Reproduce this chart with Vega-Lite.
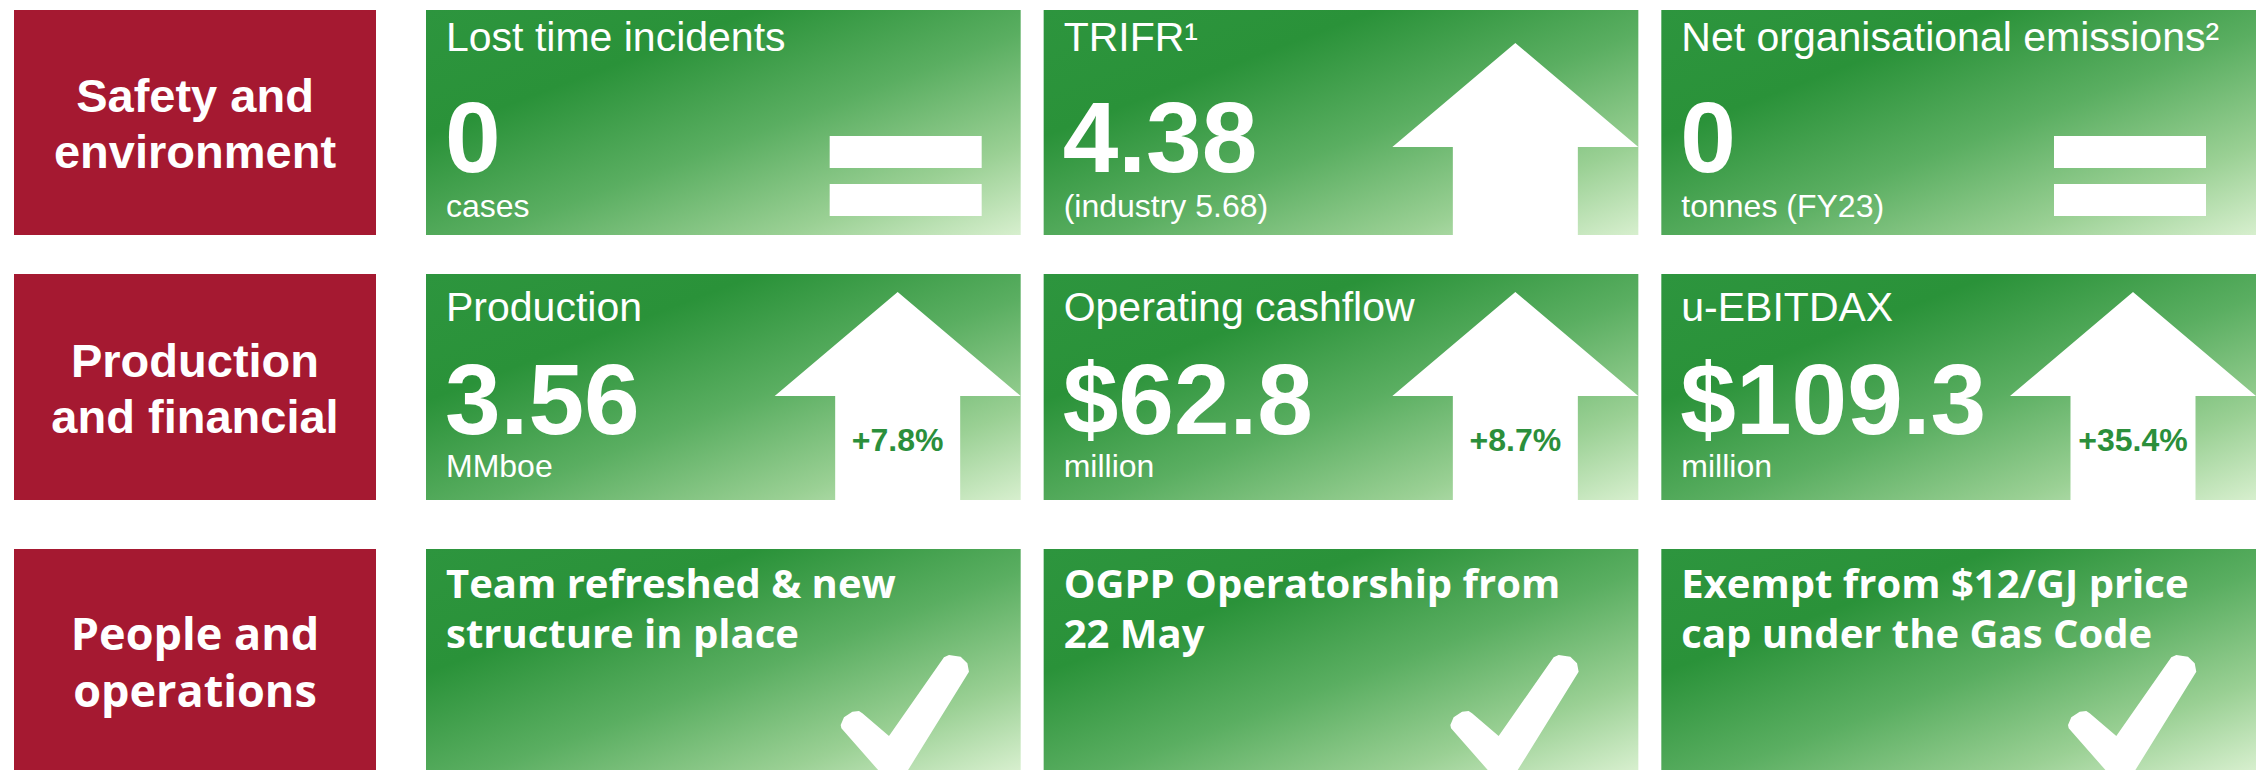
{
  "$schema": "https://vega.github.io/schema/vega-lite/v6.json",
  "background": "white",
  "padding": {"left": 14, "top": 10, "right": 0, "bottom": 0},
  "config": {"view": {"stroke": null}},
  "datasets": {
    "labels": [
      {"row": 1, "label": "Safety and\nenvironment"},
      {"row": 2, "label": "Production\nand financial"},
      {"row": 3, "label": "People and\noperations"}
    ],
    "tiles": [
      {"row": 1, "col": "c1", "title": "Lost time incidents", "value": "0", "unit": "cases", "icon": "equals"},
      {"row": 1, "col": "c2", "title": "TRIFR¹", "value": "4.38", "unit": "(industry 5.68)", "icon": "up"},
      {"row": 1, "col": "c3", "title": "Net organisational emissions²", "value": "0", "unit": "tonnes (FY23)", "icon": "equals"},
      {"row": 2, "col": "c1", "title": "Production", "value": "3.56", "unit": "MMboe", "icon": "up", "pct": "+7.8%"},
      {"row": 2, "col": "c2", "title": "Operating cashflow", "value": "$62.8", "unit": "million", "icon": "up", "pct": "+8.7%"},
      {"row": 2, "col": "c3", "title": "u-EBITDAX", "value": "$109.3", "unit": "million", "icon": "up", "pct": "+35.4%"},
      {"row": 3, "col": "c1", "title": "Team refreshed & new\nstructure in place", "icon": "check"},
      {"row": 3, "col": "c2", "title": "OGPP Operatorship from\n22 May", "icon": "check"},
      {"row": 3, "col": "c3", "title": "Exempt from $12/GJ price\ncap under the Gas Code", "icon": "check"}
    ]
  },
  "spacing": 49,
  "vconcat": [
    {
      "spacing": 39,
      "vconcat": [
        {
          "spacing": 50,
          "hconcat": [
            {
              "width": 362, "height": 225,
              "view": {"fill": "#a51931", "stroke": null},
              "data": {"name": "labels"},
              "transform": [{"filter": "datum.row == 1"}],
              "mark": {"type": "text", "align": "center", "baseline": "alphabetic", "dy": -10.5, "font": "Liberation Sans", "fontWeight": "bold", "fontSize": 47, "lineHeight": 56, "lineBreak": "\n", "fill": "white"},
              "encoding": {"text": {"field": "label", "type": "nominal"}}
            },
            {
              "width": 1830, "height": 225,
              "view": {"stroke": null},
              "data": {"name": "tiles"},
              "transform": [{"filter": "datum.row == 1"}],
              "encoding": {"x": {"field": "col", "type": "nominal", "scale": {"type": "band", "domain": ["c1", "c2", "c3"], "paddingInner": 0.0372, "paddingOuter": 0}, "axis": null}},
              "layer": [
                {"mark": {"type": "rect", "opacity": 1, "fill": {"gradient": "linear", "x1": 0, "y1": 0, "x2": 1, "y2": 1, "stops": [{"offset": 0, "color": "#2d953e"}, {"offset": 0.28, "color": "#2a9239"}, {"offset": 0.55, "color": "#5aae61"}, {"offset": 0.8, "color": "#9ad094"}, {"offset": 1, "color": "#d7efce"}]}}},
                {"transform": [{"filter": "datum.icon == 'up'"}],
                 "mark": {"type": "point", "shape": "M-1.23,-0.795 L0,0.245 L-0.605,0.245 L-0.605,1.3 L-1.855,1.3 L-1.855,0.245 L-2.46,0.245 Z", "size": 40000, "filled": true, "fill": "white", "opacity": 1, "strokeWidth": 0, "clip": true},
                 "encoding": {"x": {"field": "col", "type": "nominal", "bandPosition": 1}}},
                {"transform": [{"filter": "datum.icon == 'equals' && datum.col == 'c1'"}],
                 "mark": {"type": "point", "shape": "M-1.91,0.135 L-0.39,0.135 L-0.39,0.455 L-1.91,0.455 Z M-1.91,0.615 L-0.39,0.615 L-0.39,0.935 L-1.91,0.935 Z", "size": 40000, "filled": true, "fill": "white", "opacity": 1, "strokeWidth": 0},
                 "encoding": {"x": {"field": "col", "type": "nominal", "bandPosition": 1}}},
                {"transform": [{"filter": "datum.icon == 'equals' && datum.col == 'c3'"}],
                 "mark": {"type": "point", "shape": "M-1.91,0.135 L-0.39,0.135 L-0.39,0.455 L-1.91,0.455 Z M-1.91,0.615 L-0.39,0.615 L-0.39,0.935 L-1.91,0.935 Z", "size": 40000, "filled": true, "fill": "white", "opacity": 1, "strokeWidth": 0, "xOffset": -11},
                 "encoding": {"x": {"field": "col", "type": "nominal", "bandPosition": 1}}},
                {"mark": {"type": "text", "align": "left", "baseline": "alphabetic", "dx": 20, "dy": -71.5, "font": "Liberation Sans", "fontSize": 41, "fill": "white"},
                 "encoding": {"x": {"field": "col", "type": "nominal", "bandPosition": 0}, "text": {"field": "title", "type": "nominal"}}},
                {"mark": {"type": "text", "align": "left", "baseline": "alphabetic", "dx": 19, "dy": 49.5, "font": "Liberation Sans", "fontWeight": "bold", "fontSize": 100, "fill": "white"},
                 "encoding": {"x": {"field": "col", "type": "nominal", "bandPosition": 0}, "text": {"field": "value", "type": "nominal"}}},
                {"mark": {"type": "text", "align": "left", "baseline": "alphabetic", "dx": 20, "dy": 94.5, "font": "Liberation Sans", "fontSize": 32, "fill": "white"},
                 "encoding": {"x": {"field": "col", "type": "nominal", "bandPosition": 0}, "text": {"field": "unit", "type": "nominal"}}}
              ]
            }
          ]
        },
        {
          "spacing": 50,
          "hconcat": [
            {
              "width": 362, "height": 226,
              "view": {"fill": "#a51931", "stroke": null},
              "data": {"name": "labels"},
              "transform": [{"filter": "datum.row == 2"}],
              "mark": {"type": "text", "align": "center", "baseline": "alphabetic", "dy": -10, "font": "Liberation Sans", "fontWeight": "bold", "fontSize": 47, "lineHeight": 56, "lineBreak": "\n", "fill": "white"},
              "encoding": {"text": {"field": "label", "type": "nominal"}}
            },
            {
              "width": 1830, "height": 226,
              "view": {"stroke": null},
              "data": {"name": "tiles"},
              "transform": [{"filter": "datum.row == 2"}],
              "encoding": {"x": {"field": "col", "type": "nominal", "scale": {"type": "band", "domain": ["c1", "c2", "c3"], "paddingInner": 0.0372, "paddingOuter": 0}, "axis": null}},
              "layer": [
                {"mark": {"type": "rect", "opacity": 1, "fill": {"gradient": "linear", "x1": 0, "y1": 0, "x2": 1, "y2": 1, "stops": [{"offset": 0, "color": "#2d953e"}, {"offset": 0.28, "color": "#2a9239"}, {"offset": 0.55, "color": "#5aae61"}, {"offset": 0.8, "color": "#9ad094"}, {"offset": 1, "color": "#d7efce"}]}}},
                {"transform": [{"filter": "datum.icon == 'up'"}],
                 "mark": {"type": "point", "shape": "M-1.23,-0.95 L0,0.09 L-0.605,0.09 L-0.605,1.3 L-1.855,1.3 L-1.855,0.09 L-2.46,0.09 Z", "size": 40000, "filled": true, "fill": "white", "opacity": 1, "strokeWidth": 0, "clip": true},
                 "encoding": {"x": {"field": "col", "type": "nominal", "bandPosition": 1}}},
                {"mark": {"type": "text", "align": "left", "baseline": "alphabetic", "dx": 20, "dy": -66, "font": "Liberation Sans", "fontSize": 41, "fill": "white"},
                 "encoding": {"x": {"field": "col", "type": "nominal", "bandPosition": 0}, "text": {"field": "title", "type": "nominal"}}},
                {"mark": {"type": "text", "align": "left", "baseline": "alphabetic", "dx": 19, "dy": 47, "font": "Liberation Sans", "fontWeight": "bold", "fontSize": 100, "fill": "white"},
                 "encoding": {"x": {"field": "col", "type": "nominal", "bandPosition": 0}, "text": {"field": "value", "type": "nominal"}}},
                {"mark": {"type": "text", "align": "left", "baseline": "alphabetic", "dx": 20, "dy": 90, "font": "Liberation Sans", "fontSize": 32, "fill": "white"},
                 "encoding": {"x": {"field": "col", "type": "nominal", "bandPosition": 0}, "text": {"field": "unit", "type": "nominal"}}},
                {"mark": {"type": "text", "align": "center", "baseline": "alphabetic", "dx": -123, "dy": 64, "font": "Liberation Sans", "fontWeight": "bold", "fontSize": 32, "fill": "#2b8f3b"},
                 "encoding": {"x": {"field": "col", "type": "nominal", "bandPosition": 1}, "text": {"field": "pct", "type": "nominal"}}}
              ]
            }
          ]
        }
      ]
    },
    {
      "spacing": 50,
      "hconcat": [
        {
          "width": 362, "height": 221,
          "view": {"fill": "#a51931", "stroke": null},
          "data": {"name": "labels"},
          "transform": [{"filter": "datum.row == 3"}],
          "mark": {"type": "text", "align": "center", "baseline": "alphabetic", "dy": -9.5, "font": "Open Sans", "fontWeight": "bold", "fontSize": 45, "lineHeight": 57, "lineBreak": "\n", "fill": "white"},
          "encoding": {"text": {"field": "label", "type": "nominal"}}
        },
        {
          "width": 1830, "height": 221,
          "view": {"stroke": null},
          "data": {"name": "tiles"},
          "transform": [{"filter": "datum.row == 3"}],
          "encoding": {"x": {"field": "col", "type": "nominal", "scale": {"type": "band", "domain": ["c1", "c2", "c3"], "paddingInner": 0.0372, "paddingOuter": 0}, "axis": null}},
          "layer": [
            {"mark": {"type": "rect", "opacity": 1, "fill": {"gradient": "linear", "x1": 0, "y1": 0, "x2": 1, "y2": 1, "stops": [{"offset": 0, "color": "#2d953e"}, {"offset": 0.28, "color": "#2a9239"}, {"offset": 0.55, "color": "#5aae61"}, {"offset": 0.8, "color": "#9ad094"}, {"offset": 1, "color": "#d7efce"}]}}},
            {"transform": [{"filter": "datum.col == 'c1'"}],
             "mark": {"type": "point", "shape": "M-0.847,-0.022 L-0.797,-0.045 L-0.68,-0.028 L-0.613,0.038 L-0.597,0.122 L-1.33,1.305 L-1.873,0.688 L-1.88,0.655 L-1.847,0.578 L-1.763,0.522 L-1.697,0.515 L-1.663,0.538 L-1.397,0.765 Z", "size": 40000, "filled": true, "fill": "white", "opacity": 1, "strokeWidth": 0, "clip": true, "xOffset": 8},
             "encoding": {"x": {"field": "col", "type": "nominal", "bandPosition": 1}}},
            {"transform": [{"filter": "datum.col != 'c1'"}],
             "mark": {"type": "point", "shape": "M-0.847,-0.022 L-0.797,-0.045 L-0.68,-0.028 L-0.613,0.038 L-0.597,0.122 L-1.33,1.305 L-1.873,0.688 L-1.88,0.655 L-1.847,0.578 L-1.763,0.522 L-1.697,0.515 L-1.663,0.538 L-1.397,0.765 Z", "size": 40000, "filled": true, "fill": "white", "opacity": 1, "strokeWidth": 0, "clip": true},
             "encoding": {"x": {"field": "col", "type": "nominal", "bandPosition": 1}}},
            {"mark": {"type": "text", "align": "left", "baseline": "alphabetic", "dx": 20, "dy": -61.5, "font": "Open Sans", "fontWeight": "bold", "fontSize": 40, "lineHeight": 50, "lineBreak": "\n", "fill": "white"},
             "encoding": {"x": {"field": "col", "type": "nominal", "bandPosition": 0}, "text": {"field": "title", "type": "nominal"}}}
          ]
        }
      ]
    }
  ]
}
